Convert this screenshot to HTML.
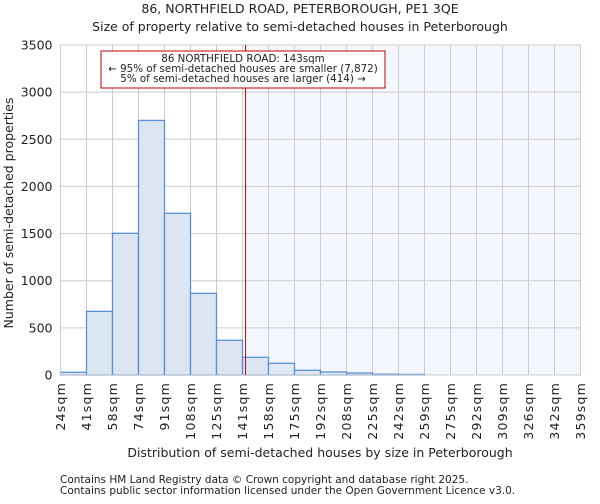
<!DOCTYPE html>
<html><head><meta charset="utf-8"><style>
body{margin:0;background:#fff;font-family:"DejaVu Sans","Liberation Sans",sans-serif;}
svg text{font-family:"DejaVu Sans","Liberation Sans",sans-serif;fill:#222;}
</style></head><body>
<svg id="chart" width="600" height="500" xmlns="http://www.w3.org/2000/svg">
<text x="300" y="13" font-size="12.5" text-anchor="middle">86, NORTHFIELD ROAD, PETERBOROUGH, PE1 3QE</text>
<text x="300" y="31" font-size="12.5" text-anchor="middle">Size of property relative to semi-detached houses in Peterborough</text>
<g id="plot"></g>
<text transform="translate(13,213) rotate(-90)" font-size="12.5" text-anchor="middle">Number of semi-detached properties</text>
<text x="320" y="457" font-size="12.5" text-anchor="middle">Distribution of semi-detached houses by size in Peterborough</text>
<text x="60" y="483" font-size="10.5">Contains HM Land Registry data © Crown copyright and database right 2025.</text>
<text x="60" y="494" font-size="10.5">Contains public sector information licensed under the Open Government Licence v3.0.</text>
</svg>
<script>
const binLabels=["24sqm","41sqm","58sqm","74sqm","91sqm","108sqm","125sqm","141sqm","158sqm","175sqm","192sqm","208sqm","225sqm","242sqm","259sqm","275sqm","292sqm","309sqm","326sqm","342sqm","359sqm"];
const counts=[29,675,1503,2700,1715,866,368,188,124,50,32,21,8,6,0,0,0,0,0,0];
const yTicks=[0,500,1000,1500,2000,2500,3000,3500];
const propertySize=143;
const binEdges=[24,41,58,74,91,108,125,141,158,175,192,208,225,242,259,275,292,309,326,342,359];
const NS="http://www.w3.org/2000/svg";
const L=60.5,R=580.5,T=45,B=375,yMax=3500;
const bw=(R-L)/counts.length;
const xi=i=>L+i*bw;
const y=v=>B-(v/yMax)*(B-T);
function xVal(v){for(let i=0;i<binEdges.length-1;i++){if(v>=binEdges[i]&&v<=binEdges[i+1])return xi(i)+(v-binEdges[i])/(binEdges[i+1]-binEdges[i])*bw;}return R;}
const g=document.getElementById('plot');
function mk(t,a){const e=document.createElementNS(NS,t);for(const k in a)e.setAttribute(k,a[k]);return e;}
const px=xVal(propertySize);
let e=mk('rect',{x:px,y:T,width:R-px,height:B-T,fill:'#f3f6fd'});


g.appendChild(e);
yTicks.forEach(t=>{
 let l=mk('line',{x1:L,x2:R,y1:y(t),y2:y(t),stroke:'#cccccc','stroke-width':1});
 
 
 g.appendChild(l);
 let tx=mk('text',{x:L-8,y:y(t)+4.5,'font-size':12.5,'text-anchor':'end'});
 tx.textContent=t;
 
 
 g.appendChild(tx);
});
binLabels.forEach((lab,i)=>{
 let l=mk('line',{x1:xi(i),x2:xi(i),y1:T,y2:B,stroke:'#cccccc','stroke-width':1});
 
 
 g.appendChild(l);
 let tx=mk('text',{transform:`translate(${xi(i)+4.5},${B+7}) rotate(-90)`,'font-size':12.5,'letter-spacing':'1.2','text-anchor':'end'});
 tx.textContent=lab;
 
 
 g.appendChild(tx);
});
counts.forEach((c,i)=>{
 if(c<=0)return;
 let r=mk('rect',{x:xi(i),y:y(c),width:bw,height:B-y(c),fill:'#dce6f3','fill-opacity':xi(i)>=px?0.85:1,stroke:'#5b8fd9','stroke-width':1.3});
 
 
 g.appendChild(r);
});
let fr=mk('rect',{x:L,y:T,width:R-L,height:B-T,fill:'none',stroke:'#cccccc','stroke-width':1});


g.appendChild(fr);
let vl=mk('line',{x1:px,x2:px,y1:T,y2:B,stroke:'#c00000','stroke-width':1});


g.appendChild(vl);
let bx=mk('rect',{x:101,y:51,width:284,height:37,fill:'#fff',stroke:'#c00000','stroke-width':1});


g.appendChild(bx);
["86 NORTHFIELD ROAD: 143sqm","← 95% of semi-detached houses are smaller (7,872)","5% of semi-detached houses are larger (414) →"].forEach((s,k)=>{
 let t=mk('text',{x:243,y:62+k*10,'font-size':10.3,'text-anchor':'middle'});
 t.textContent=s;
 
 
 g.appendChild(t);
});
</script>
</body></html>
